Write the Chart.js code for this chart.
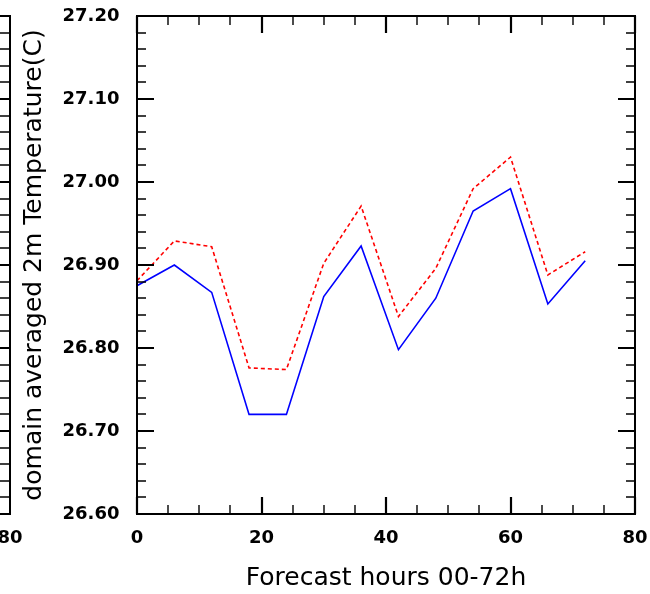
<!DOCTYPE html>
<html>
<head>
<meta charset="utf-8">
<script src="https://cdn.jsdelivr.net/npm/chart.js@4/dist/chart.umd.min.js"></script>
<style>
  html, body { margin: 0; padding: 0; background: #fff; }
  #c { display: block; }
</style>
</head>
<body>
<canvas id="c" width="650" height="594"></canvas>
<script>
// ---- data ----
const hours = [0, 6, 12, 18, 24, 30, 36, 42, 48, 54, 60, 66, 72];
const seriesBlue = [26.875, 26.900, 26.867, 26.720, 26.720, 26.862, 26.923, 26.798, 26.860, 26.965, 26.992, 26.853, 26.905];
const seriesRed  = [26.881, 26.929, 26.922, 26.776, 26.774, 26.902, 26.971, 26.838, 26.896, 26.992, 27.030, 26.888, 26.916];
const yTickValues = ['26.60', '26.70', '26.80', '26.90', '27.00', '27.10', '27.20'];
const xTickValues = ['0', '20', '40', '60', '80'];
const xTitle = 'Forecast hours 00-72h';
const yTitle = 'domain averaged 2m Temperature(C)';
const neighbourLabel = '80';

const yMin = parseFloat(yTickValues[0]);
const yMax = parseFloat(yTickValues[yTickValues.length - 1]);
const xMin = parseFloat(xTickValues[0]);
const xMax = parseFloat(xTickValues[xTickValues.length - 1]);

const TICK_FONT = { family: 'DejaVu Sans', size: 18, weight: 'bold' };
const TITLE_FONT = { family: 'DejaVu Sans', size: 25, weight: 'normal' };

function toPoints(xs, ys) { return xs.map((x, i) => ({ x: x, y: ys[i] })); }
function noPad(s) { s.paddingTop = 0; s.paddingBottom = 0; s.paddingLeft = 0; s.paddingRight = 0; }

// Frame + inward ticks on all four sides (NCL style) + partial neighbour panel edge
const frameTicks = {
  id: 'frameTicks',
  afterDraw(chart) {
    const { ctx, chartArea: a, scales } = chart;
    const xs = scales.x, ys = scales.y;
    ctx.save();
    ctx.strokeStyle = '#000';
    ctx.lineCap = 'butt';
    const majorLen = 17, minorLen = 9;
    const yN = Math.round((yMax - yMin) / 0.02);
    for (let i = 0; i <= yN; i++) {
      const v = yMin + i * 0.02;
      const p = Math.round(ys.getPixelForValue(v));
      const major = i % 5 === 0;
      const len = major ? majorLen : minorLen;
      ctx.lineWidth = major ? 2.2 : 1.4;
      ctx.beginPath();
      ctx.moveTo(a.left, p); ctx.lineTo(a.left + len, p);
      ctx.moveTo(a.right, p); ctx.lineTo(a.right - len, p);
      ctx.moveTo(10, p); ctx.lineTo(0, p);
      ctx.stroke();
    }
    const xN = Math.round((xMax - xMin) / 5);
    for (let i = 0; i <= xN; i++) {
      const v = xMin + i * 5;
      const p = Math.round(xs.getPixelForValue(v));
      const major = i % 4 === 0;
      const len = major ? majorLen : minorLen;
      ctx.lineWidth = major ? 2.2 : 1.4;
      ctx.beginPath();
      ctx.moveTo(p, a.bottom); ctx.lineTo(p, a.bottom - len);
      ctx.moveTo(p, a.top); ctx.lineTo(p, a.top + len);
      ctx.stroke();
    }
    ctx.lineWidth = 2;
    ctx.strokeRect(a.left, a.top, a.right - a.left, a.bottom - a.top);
    ctx.beginPath();
    ctx.moveTo(-2, a.top); ctx.lineTo(10, a.top); ctx.lineTo(10, a.bottom); ctx.lineTo(-2, a.bottom);
    ctx.stroke();
    ctx.fillStyle = '#000';
    ctx.font = 'bold 18px "DejaVu Sans"';
    ctx.textAlign = 'center';
    ctx.textBaseline = 'middle';
    ctx.fillText(neighbourLabel, 10, a.bottom + 13.5 + 10.8);
    ctx.restore();
  }
};

new Chart(document.getElementById('c'), {
  type: 'line',
  data: {
    datasets: [
      {
        label: 'blue',
        data: toPoints(hours, seriesBlue),
        borderColor: '#0000ff',
        borderWidth: 1.6,
        pointRadius: 0,
        tension: 0,
        fill: false
      },
      {
        label: 'red',
        data: toPoints(hours, seriesRed),
        borderColor: '#ff0000',
        borderWidth: 1.6,
        borderDash: [4, 3],
        pointRadius: 0,
        tension: 0,
        fill: false
      }
    ]
  },
  options: {
    responsive: false,
    animation: false,
    devicePixelRatio: 1,
    layout: { padding: { top: 16, right: 15, left: 0, bottom: 0 } },
    plugins: { legend: { display: false }, tooltip: { enabled: false } },
    scales: {
      x: {
        type: 'linear',
        min: xMin, max: xMax,
        afterFit(s) { s.height = 80; noPad(s); },
        grid: { display: false, drawTicks: false, tickLength: 0 },
        border: { display: false },
        ticks: {
          stepSize: 20,
          color: '#000',
          font: TICK_FONT,
          padding: 13.5,
          maxRotation: 0,
          autoSkip: false,
          callback: (v) => xTickValues.includes(String(v)) ? String(v) : ''
        },
        title: { display: true, text: xTitle, color: '#000', font: TITLE_FONT, padding: { top: 0, bottom: 1 } }
      },
      y: {
        type: 'linear',
        min: yMin, max: yMax,
        afterFit(s) { s.width = 137; noPad(s); },
        grid: { display: false, drawTicks: false, tickLength: 0 },
        border: { display: false },
        ticks: {
          stepSize: 0.1,
          color: '#000',
          font: TICK_FONT,
          padding: 17.5,
          autoSkip: false,
          callback: (v) => Number(v).toFixed(2)
        },
        title: { display: true, text: yTitle, color: '#000', font: TITLE_FONT, padding: { top: 19, bottom: 0 } }
      }
    }
  },
  plugins: [frameTicks]
});
</script>
</body>
</html>
